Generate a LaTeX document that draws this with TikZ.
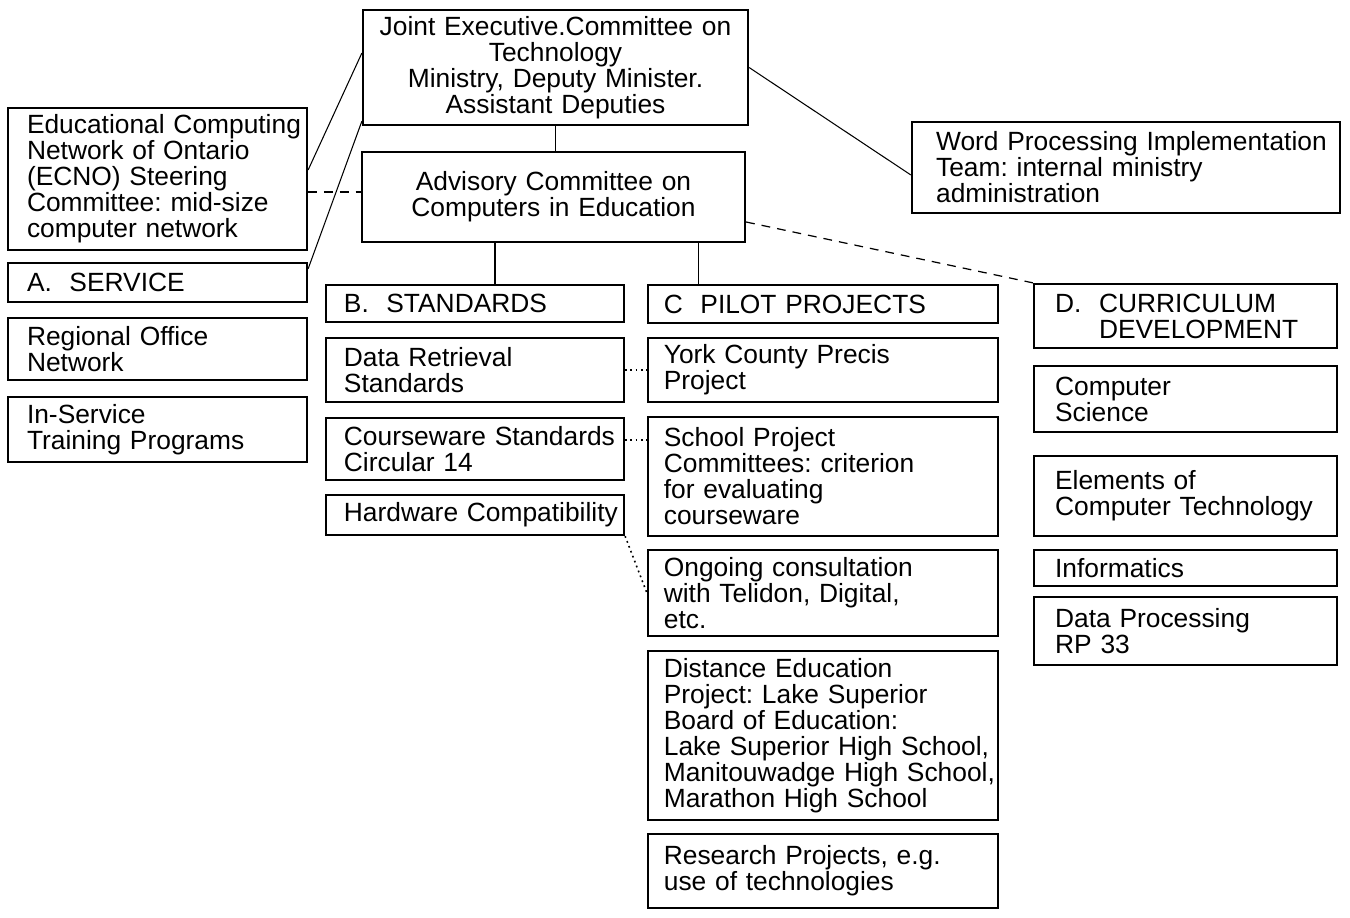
\documentclass[tikz,border=0pt]{standalone}
\usepackage{fontspec}
\setmainfont{Liberation Sans}
\usepackage{tikz}

\tikzset{
    box/.style={draw, line width=1.3pt, inner xsep=1pt, inner ysep=0pt,
        font=\fontsize{15pt}{14.8pt}\selectfont\frenchspacing},
    colA/.style={box, align=left, text width=5.98cm-2pt,
        execute at begin node={\leftskip=9.8pt}},
    colB/.style={box, align=left, text width=5.96cm-2pt,
        execute at begin node={\leftskip=9.2pt}},
    colC/.style={box, align=left, text width=7cm-2pt,
        execute at begin node={\leftskip=8pt}},
    colD/.style={box, align=left, text width=6.06cm-2pt,
        execute at begin node={\leftskip=11pt}},
    link/.style={line width=0.6pt},
    dashlink/.style={line width=0.7pt, dash pattern=on 5pt off 4pt},
    dotlink/.style={line width=0.9pt, dash pattern=on 1pt off 2pt},
}

\begin{document}
\begin{tikzpicture}[x=0.02cm,y=-0.02cm]
                \useasboundingbox
                    (0,0) rectangle (1350,917);
                \node[box, align=center, text width=7.7cm-2pt, minimum height=2.3cm] (joint)
                    at (555.5,67.5) {Joint Executive.Committee on\\Technology\\Ministry, Deputy Minister.\\Assistant Deputies};
                \node[box, align=center, text width=7.66cm-2pt, minimum height=1.8cm] (advisory)
                    at (553.5,197) {Advisory Committee on\\Computers in Education};
                \node[box, align=left, text width=8.56cm-2pt, minimum height=1.82cm,
                      execute at begin node={\leftskip=12.7pt}] (wordproc)
                    at (1126,167.5) {Word Processing Implementation\\Team: internal ministry\\administration};
                \node[colA, minimum height=2.84cm] (ecno)
                    at (157.5,179) {Educational Computing\\Network of Ontario\\(ECNO) Steering\\Committee: mid-size\\computer network};
                \node[colA, minimum height=0.78cm] (service)
                    at (157.5,282.5) {A.\ \ SERVICE};
                \node[colA, minimum height=1.24cm] (regional)
                    at (157.5,349) {Regional Office\\Network};
                \node[colA, minimum height=1.3cm] (inservice)
                    at (157.5,429.5) {In-Service\\Training Programs};
                \node[colB, minimum height=0.74cm] (standards)
                    at (475,303.5) {B.\ \ STANDARDS};
                \node[colB, minimum height=1.28cm] (retrieval)
                    at (475,370) {Data Retrieval\\Standards};
                \node[colB, minimum height=1.24cm] (courseware)
                    at (475,449) {Courseware Standards\\Circular 14};
                \node[colB, minimum height=0.8cm] (hardware)
                    at (475,515) {\mbox{Hardware Compatibility}};
                \node[colC, minimum height=0.76cm] (pilot)
                    at (823,304) {C\ \ PILOT PROJECTS};
                \node[colC, minimum height=1.28cm] (york)
                    at (823,370) {York County Precis\\Project};
                \node[colC, minimum height=2.38cm] (school)
                    at (823,476.5) {School Project\\Committees: criterion\\for evaluating\\courseware};
                \node[colC, minimum height=1.72cm] (ongoing)
                    at (823,593) {Ongoing consultation\\with Telidon, Digital,\\etc.};
                \node[colC, minimum height=3.38cm] (distance)
                    at (823,735.5) {Distance Education\\Project: Lake Superior\\Board of Education:\\\mbox{Lake Superior High School,}\\\mbox{Manitouwadge High School,}\\Marathon High School};
                \node[colC, minimum height=1.48cm] (research)
                    at (823,871) {Research Projects, e.g.\\use of technologies};
                \node[colD, minimum height=1.28cm] (curriculum)
                    at (1185.5,316) {D.\ \ CURRICULUM\\\hphantom{D.\ \ }DEVELOPMENT};
                \node[colD, minimum height=1.32cm] (compsci)
                    at (1185.5,399) {Computer\\Science};
                \node[colD, minimum height=1.6cm] (elements)
                    at (1185.5,496) {Elements of\\Computer Technology};
                \node[colD, minimum height=0.72cm] (informatics)
                    at (1185.5,568) {Informatics};
                \node[colD, minimum height=1.36cm] (dataproc)
                    at (1185.5,631) {Data Processing\\RP 33};
                \draw[link]
                    (joint.south) -- (joint.south |- advisory.north);
                \draw[link]
                    ([xshift=0.4cm]standards.north) -- ([xshift=0.4cm]standards.north |- advisory.south);
                \draw[link]
                    ([xshift=-2.5cm]pilot.north) -- ([xshift=-2.5cm]pilot.north |- advisory.south);
                \draw[link]
                    ([yshift=0.29cm]joint.west) -- ([yshift=0.18cm]ecno.east);
                \draw[link]
                    ([yshift=0.1cm]joint.south west) -- ([yshift=-0.14cm]service.north east);
                \draw[link]
                    (joint.east) -- ([yshift=-0.15cm]wordproc.west);
                \draw[dashlink]
                    ([yshift=-0.26cm]ecno.east) -- ([yshift=-0.26cm]ecno.east -| advisory.west);
                \draw[dashlink]
                    ([yshift=-0.5cm]advisory.east) -- (curriculum.north west);
                \draw[dotlink]
                    (retrieval.east) -- (york.west);
                \draw[dotlink]
                    ([yshift=0.18cm]courseware.east) -- ([yshift=0.18cm]courseware.east -| school.west);
                \draw[dotlink]
                    (hardware.south east) -- (ongoing.west);
            \end{tikzpicture}
\end{document}
